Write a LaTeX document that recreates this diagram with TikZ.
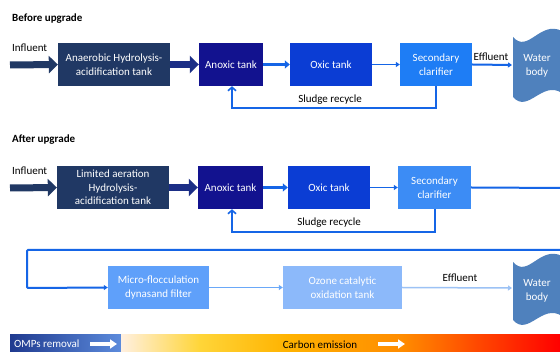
\documentclass[tikz,border=0pt]{standalone}
\usepackage{fontspec}
\setmainfont{Carlito}
\usetikzlibrary{arrows.meta}
\definecolor{navyc}{HTML}{203864}
\definecolor{anoxc}{HTML}{12128F}
\definecolor{oxicc}{HTML}{0B3DD4}
\definecolor{clarA}{HTML}{1E7DF5}
\definecolor{clarB}{HTML}{3C8CF5}
\definecolor{microc}{HTML}{5FA0FA}
\definecolor{ozonec}{HTML}{8CB9FA}
\definecolor{waterc}{HTML}{4F81BD}
\definecolor{linec}{HTML}{1565E6}
\definecolor{linelt}{HTML}{6AA8F8}
\definecolor{linevlt}{HTML}{9CC2F5}
\definecolor{midnavy}{HTML}{1B2E86}
\definecolor{ompL}{HTML}{1F3A8F}
\definecolor{ompR}{HTML}{5C8BDC}
\pgfdeclarehorizontalshading{carbon}{100bp}{%
  color(0bp)=(white!60!orange!30);
  color(25bp)=(white!60!orange!30);
  color(34bp)=(white!40!orange!55!yellow);
  color(44bp)=(orange!60!yellow);
  color(50bp)=(orange!75!yellow);
  color(57bp)=(orange!90!yellow);
  color(65bp)=(orange!60!red);
  color(75bp)=(red);
  color(100bp)=(red)}
\tikzset{
  box/.style={draw=none, inner sep=0pt, align=center, text=white,
    minimum height=43pt, font=\fontsize{11}{13.5}\selectfont},
  lbl/.style={inner sep=0pt, font=\fontsize{11}{13}\selectfont, text=black},
  ttl/.style={inner sep=0pt, anchor=west, font=\bfseries\fontsize{11}{13}\selectfont},
  bigarrow/.style={line width=7pt, -{Triangle[length=9pt,width=17pt]}},
  midarrow/.style={line width=2.5pt, -{Triangle[length=5pt,width=8pt]}},
  thinarrow/.style={line width=1.5pt, -{Triangle[length=4pt,width=5pt]}},
  recycle/.style={line width=2pt, linec, -{Straight Barb[length=3.5pt,width=8pt,line width=1.6pt]}},
  whitearrow/.style={white, line width=4pt, -{Triangle[length=7pt,width=9pt]}},
  water/.style={fill=waterc, draw=none}
}
\begin{document}
\begin{tikzpicture}[x=1pt,y=-1pt]
\clip (0,0) rectangle (560,352);
\fill[white] (0,0) rectangle (560,352);

% ---------------- Before upgrade ----------------
\node[ttl] (t1) at (12,19) {Before upgrade};
\node[lbl, anchor=west] (inf1) at (12,48) {Influent};
\coordinate (in1) at (10,65);
\node[box, fill=navyc, minimum width=112pt] (b1) at (114,64.5) {Anaerobic Hydrolysis-\\acidification tank};
\node[box, fill=anoxc, minimum width=64pt] (an1) at (231,64.5) {Anoxic tank};
\node[box, fill=oxicc, minimum width=82pt] (ox1) at (331,64.5) {Oxic tank};
\node[box, fill=clarA, minimum width=72pt] (cl1) at (436,64.5) {Secondary\\clarifier};
\path[water] (513,37) .. controls (528,54) and (540,20) .. (562,31) -- (562,93)
  .. controls (542,80) and (528,114) .. (513,97) -- cycle;
\node[box, minimum height=0pt, text=white] (w1) at (537,66) {Water\\body};
\coordinate (w1in) at (512,65);

\draw[bigarrow, navyc] (in1) -- (b1.west);
\draw[bigarrow, midnavy] (b1.east) -- (an1.west);
\draw[midarrow, linec] (an1.east) -- (ox1.west);
\draw[thinarrow, linec] (ox1.east) -- (cl1.west);
\draw[line width=2pt, linec, -{Triangle[length=4pt,width=5pt]}] (cl1.east) -- (w1in);
\node[lbl] (ef1) at (491,57) {Effluent};
\coordinate (r1a) at (436,108);
\coordinate (r1b) at (232,108);
\draw[recycle] (cl1.south -| r1a) -- (r1a) -- (r1b) -- (an1.south -| r1b);
\node[lbl] (sr1) at (330,100) {Sludge recycle};

% ---------------- After upgrade ----------------
\node[ttl] (t2) at (12,140) {After upgrade};
\node[lbl, anchor=west] (inf2) at (12,171) {Influent};
\coordinate (in2) at (10,188);
\node[box, fill=navyc, minimum width=112pt] (b2) at (113,187.5) {Limited aeration\\Hydrolysis-\\acidification tank};
\node[box, fill=anoxc, minimum width=65pt] (an2) at (230.5,187.5) {Anoxic tank};
\node[box, fill=oxicc, minimum width=82pt] (ox2) at (329,187.5) {Oxic tank};
\node[box, fill=clarB, minimum width=73pt] (cl2) at (434.5,187.5) {Secondary\\clarifier};
\node[box, fill=microc, minimum width=101pt] (mi) at (158.5,287.5) {Micro-flocculation\\dynasand filter};
\node[box, fill=ozonec, minimum width=119pt] (oz) at (342.5,287.5) {Ozone catalytic\\oxidation tank};
\path[water] (513,262) .. controls (528,279) and (540,245) .. (562,256) -- (562,316)
  .. controls (542,303) and (528,337) .. (513,320) -- cycle;
\node[box, minimum height=0pt, text=white] (w2) at (537,291) {Water\\body};
\coordinate (w2in) at (512,288);

\draw[bigarrow, navyc] (in2) -- (b2.west);
\draw[bigarrow, midnavy] (b2.east) -- (an2.west);
\draw[midarrow, linec] (an2.east) -- (ox2.west);
\draw[thinarrow, linec] (ox2.east) -- (cl2.west);
\coordinate (c2a) at (566,188);
\coordinate (c2b) at (566,250);
\coordinate (c2c) at (27,250);
\coordinate (c2d) at (27,288);
\draw[line width=2pt, linec, rounded corners=1pt, -{Triangle[length=4pt,width=5pt]}]
  (cl2.east) -- (c2a) -- (c2b) -- (c2c) -- (c2d) -- (mi.west);
\draw[line width=1.5pt, linelt, -{Triangle[length=4pt,width=5pt]}] (mi.east) -- (oz.west);
\draw[line width=1.5pt, linevlt, -{Triangle[length=4pt,width=5pt]}] (oz.east) -- (w2in);
\node[lbl] (ef2) at (460,278) {Effluent};
\coordinate (r2a) at (435,232);
\coordinate (r2b) at (232,232);
\draw[recycle] (cl2.south -| r2a) -- (r2a) -- (r2b) -- (an2.south -| r2b);
\node[lbl] (sr2) at (329,223) {Sludge recycle};

% ---------------- Bottom bar ----------------
\shade[left color=ompL, right color=ompR] (10,335) rectangle (121,352);
\shade[shading=carbon] (121,335) rectangle (560,352);
\node[lbl, anchor=west, text=white] (omp) at (14,344) {OMPs removal};
\coordinate (oa1) at (90,344);
\coordinate (oa2) at (117,344);
\draw[whitearrow] (oa1) -- (oa2);
\node[lbl] (ce) at (320,345) {Carbon emission};
\coordinate (ca1) at (378,344);
\coordinate (ca2) at (405,344);
\draw[whitearrow] (ca1) -- (ca2);
\end{tikzpicture}
\end{document}
